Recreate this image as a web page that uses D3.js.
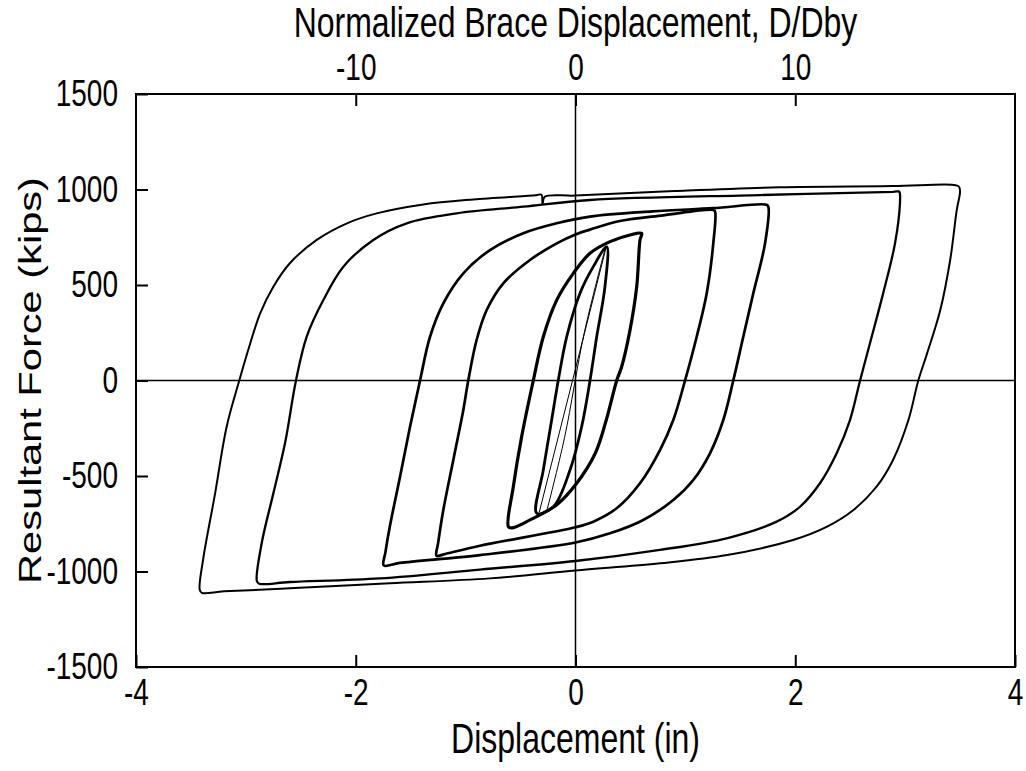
<!DOCTYPE html>
<html>
<head>
<meta charset="utf-8">
<script src="https://cdn.jsdelivr.net/npm/d3@7"></script>
<style>
    body { margin: 0; background: #fff; }
    svg { display: block; font-family: "Liberation Sans", Arial, sans-serif; }
</style>
</head>
<body>
<div id="chart"></div>
<script>
// Achsen-Ticks
const xTicks = [-4, -2, 0, 2, 4];
const yTicks = [-1500, -1000, -500, 0, 500, 1000, 1500];
const topTicks = [-10, 0, 10];
const dby = 0.2; // D/Dby = Verschiebung / 0.2 in

// Hysterese-Schleifen [Verschiebung (in), Kraft (kips)], vom Zugmaximum aus im Kreis
const loopA = [
    [3.50, 990], [3.47, 893], [3.41, 631], [3.32, 369], [3.20, 142], [3.12, 0], [3.03, -207],
    [2.89, -416], [2.74, -556], [2.53, -678], [2.29, -765], [1.98, -835], [1.38, -914],
    [0.77, -957], [0.0, -995], [-0.78, -1036], [-1.69, -1062], [-2.60, -1088], [-3.20, -1104],
    [-3.40, -1112], [-3.42, -1095], [-3.39, -940], [-3.28, -591], [-3.175, -242], [-3.06, 0],
    [-2.96, 195], [-2.87, 352], [-2.75, 491], [-2.60, 614], [-2.355, 736], [-2.08, 823],
    [-1.81, 875], [-1.385, 922], [-0.93, 948], [-0.36, 970], [-0.31, 973], [-0.30, 925],
    [-0.28, 962], [0.0, 968], [0.9, 992], [1.86, 1012], [2.89, 1018], [3.44, 1024], [3.49, 1015]
];
const loopB = [
    [2.95, 985], [2.953, 928], [2.908, 718], [2.80, 456], [2.68, 195], [2.59, 0], [2.498, -207],
    [2.377, -381], [2.225, -538], [2.043, -661], [1.831, -739], [1.376, -826], [0.769, -887],
    [0.0, -945], [-0.87, -990], [-1.78, -1036], [-2.60, -1055], [-2.88, -1064], [-2.90, -1050],
    [-2.856, -852], [-2.75, -591], [-2.644, -329], [-2.544, 0], [-2.447, 229], [-2.295, 421],
    [-2.113, 596], [-1.84, 736], [-1.536, 823], [-1.081, 875], [-0.475, 910], [0.132, 945],
    [1.679, 971], [2.892, 988], [2.94, 990]
];
const loopC = [
    [1.755, 910], [1.725, 718], [1.618, 456], [1.527, 229], [1.436, 0], [1.345, -207],
    [1.224, -381], [1.072, -521], [0.89, -626], [0.617, -730], [0.314, -800], [0.0, -848],
    [-0.87, -914], [-1.60, -955], [-1.745, -968], [-1.73, -900], [-1.69, -765], [-1.597, -504],
    [-1.506, -242], [-1.415, 0], [-1.324, 229], [-1.203, 404], [-1.021, 561], [-0.778, 683],
    [-0.475, 771], [-0.171, 823], [0.132, 858], [0.70, 885], [1.254, 902], [1.74, 920]
];
const loopD = [
    [1.27, 885], [1.254, 718], [1.194, 456], [1.103, 229], [0.997, 0], [0.89, -207],
    [0.769, -364], [0.587, -538], [0.375, -669], [0.162, -739], [0.0, -768], [-0.87, -865],
    [-1.20, -910], [-1.265, -918], [-1.25, -850], [-1.203, -678], [-1.112, -416], [-1.021, -154],
    [-0.976, 0], [-0.90, 212], [-0.808, 369], [-0.657, 509], [-0.414, 631], [-0.171, 718],
    [0.0, 765], [0.132, 790], [0.405, 835], [0.80, 865], [1.254, 893]
];
const loopE = [
    [0.602, 770], [0.587, 736], [0.557, 491], [0.496, 264], [0.42, 72], [0.375, 0], [0.28, -207],
    [0.18, -381], [0.011, -538], [-0.17, -650], [-0.414, -730], [-0.58, -772], [-0.611, -765],
    [-0.566, -556], [-0.49, -294], [-0.384, 0], [-0.293, 229], [-0.171, 421], [-0.02, 561],
    [0.132, 666], [0.314, 727], [0.496, 762]
];
const loopF = [
    [0.284, 700], [0.268, 491], [0.193, 229], [0.132, 0], [0.056, -242], [-0.05, -469],
    [-0.202, -661], [-0.353, -695], [-0.293, -469], [-0.217, -207], [-0.157, 0], [-0.08, 229],
    [0.041, 457], [0.162, 596]
];
// elastische Zyklen (dünn)
const elastic1 = [[-0.33, -690], [0.28, 700]];
const elastic2 = [[-0.26, -680], [-0.10, -300], [0.08, 250], [0.27, 690]];

const width = 1026, height = 771;
const margin = { top: 94, right: 11, bottom: 104, left: 136 };
const tickFont = 28;
const labelFont = 32;
const stretch = 1.3; // Original ist senkrecht gestreckt

const svg = d3.select("#chart")
    .append("svg")
    .attr("width", width)
    .attr("height", height);

svg.append("rect")
    .attr("width", width)
    .attr("height", height)
    .attr("fill", "#fff");

const x = d3.scaleLinear()
    .domain([-4, 4])
    .range([margin.left, width - margin.right]);

const xTop = d3.scaleLinear()
    .domain([-4 / dby, 4 / dby])
    .range([margin.left, width - margin.right]);

const y = d3.scaleLinear()
    .domain([-1500, 1500])
    .range([height - margin.bottom, margin.top]);

// Nulllinien
svg.append("line")
    .attr("x1", x(0)).attr("x2", x(0))
    .attr("y1", y(-1500)).attr("y2", y(1500))
    .attr("stroke", "#000").attr("stroke-width", 1.5);
svg.append("line")
    .attr("x1", x(-4)).attr("x2", x(4))
    .attr("y1", y(0)).attr("y2", y(0))
    .attr("stroke", "#000").attr("stroke-width", 1.5);

// Schleifen
const line = d3.line()
    .x(d => x(d[0]))
    .y(d => y(d[1]))
    .curve(d3.curveCatmullRomClosed.alpha(0.5));

const openLine = d3.line()
    .x(d => x(d[0]))
    .y(d => y(d[1]))
    .curve(d3.curveCatmullRom.alpha(0.5));

const loops = [
    { pts: loopA, w: 2.0 },
    { pts: loopB, w: 2.3 },
    { pts: loopC, w: 2.7 },
    { pts: loopD, w: 2.7 },
    { pts: loopE, w: 3.2 },
    { pts: loopF, w: 2.8 }
];

svg.append("g")
    .selectAll("path")
    .data(loops)
    .enter()
    .append("path")
    .attr("d", d => line(d.pts))
    .attr("fill", "none")
    .attr("stroke", "#000")
    .attr("stroke-width", d => d.w)
    .attr("stroke-linejoin", "round");

svg.append("g")
    .selectAll("path")
    .data([elastic1, elastic2])
    .enter()
    .append("path")
    .attr("d", d => openLine(d))
    .attr("fill", "none")
    .attr("stroke", "#000")
    .attr("stroke-width", 1);

// Achsen (Ticks nach innen)
const styleTicks = g => {
    g.select(".domain").remove();
    g.selectAll(".tick line").attr("stroke", "#000").attr("stroke-width", 2);
    g.selectAll("text")
        .attr("fill", "#000")
        .style("font-size", tickFont + "px")
        .attr("transform", `scale(1,${stretch})`);
};

svg.append("g")
    .attr("transform", `translate(0,${height - margin.bottom})`)
    .call(d3.axisBottom(x).tickValues(xTicks).tickSizeInner(-12).tickSizeOuter(0).tickPadding(9).tickFormat(d => d))
    .call(styleTicks);

svg.append("g")
    .attr("transform", `translate(${margin.left},0)`)
    .call(d3.axisLeft(y).tickValues(yTicks).tickSizeInner(-12).tickSizeOuter(0).tickPadding(18).tickFormat(d => d))
    .call(styleTicks);

svg.append("g")
    .attr("transform", `translate(0,${margin.top})`)
    .call(d3.axisTop(xTop).tickValues(topTicks).tickSizeInner(-12).tickSizeOuter(0).tickPadding(11).tickFormat(d => d))
    .call(styleTicks);

// Rahmen
svg.append("rect")
    .attr("x", x(-4))
    .attr("y", y(1500))
    .attr("width", x(4) - x(-4))
    .attr("height", y(-1500) - y(1500))
    .attr("fill", "none")
    .attr("stroke", "#000")
    .attr("stroke-width", 2);

// Beschriftungen
svg.append("text")
    .attr("transform", `translate(${x(0)},37) scale(1,${stretch})`)
    .attr("text-anchor", "middle")
    .style("font-size", labelFont + "px")
    .text("Normalized Brace Displacement, D/Dby");

svg.append("text")
    .attr("transform", `translate(${x(0)},753) scale(1,${stretch})`)
    .attr("text-anchor", "middle")
    .style("font-size", labelFont + "px")
    .text("Displacement (in)");

svg.append("text")
    .attr("transform", `translate(41,${y(0)}) rotate(-90) scale(${stretch},1)`)
    .attr("text-anchor", "middle")
    .style("font-size", labelFont + "px")
    .text("Resultant Force (kips)");
</script>
</body>
</html>
